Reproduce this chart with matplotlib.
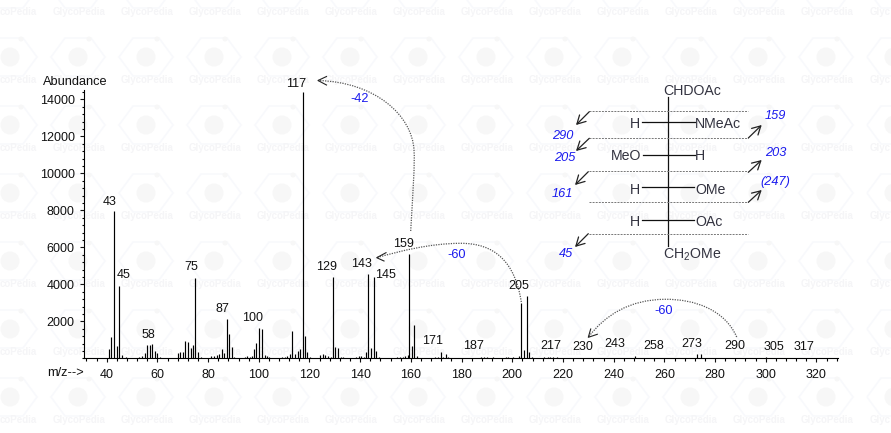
import numpy as np
import matplotlib
matplotlib.use('Agg')
import matplotlib.pyplot as plt
from matplotlib.patches import Polygon, Circle, PathPatch
from matplotlib.path import Path
from matplotlib.ticker import MultipleLocator

plt.rcParams['font.family'] = ['Liberation Sans', 'DejaVu Sans']
plt.rcParams['mathtext.default'] = 'regular'

# peaks
mz = [41.0, 41.8, 42.9, 44.2, 44.9, 46.2, 47.5, 52.9, 53.9, 55.0, 56.0, 57.0, 58.0, 59.0, 60.0, 61.1,
      68.2, 69.0, 70.2, 71.0, 72.2, 73.1, 74.2, 75.0, 76.2, 77.2,
      81.1, 82.3, 83.4, 84.2, 85.3, 86.2, 87.3, 88.4, 89.3, 90.4,
      94.5, 95.3, 96.5, 97.3, 98.2, 99.0, 100.2, 101.4, 102.3, 103.2, 104.1,
      109.3, 110.2, 111.3, 112.4, 113.2, 114.3, 115.3, 116.4, 117.3, 118.4, 119.1, 120.3,
      124.3, 125.3, 126.2, 127.3, 128.4, 129.4, 130.2, 131.4, 132.3, 133.2,
      138.3, 139.4, 140.5, 141.5, 142.3, 143.2, 144.4, 145.6, 146.4, 147.4,
      154.7, 155.8, 156.7, 157.6, 158.7, 159.4, 160.6, 161.4, 162.6, 163.6,
      169.6, 170.7, 171.7, 172.7, 173.7, 174.6, 175.8,
      184.4, 187.6, 188.9, 190.2, 192.3, 197.6, 198.4, 200.3, 202.8, 203.6, 204.8, 206.0, 206.7, 207.8,
      212.7, 213.9, 215.0, 216.1, 217.6, 248.3, 273.0, 274.5, 300.0]
abundance = [490, 1130, 7960, 670, 3910, 160, 50, 90, 120, 270, 700, 720, 770, 410, 270, 50,
             270, 320, 320, 920, 860, 540, 700, 4320, 320, 50,
             140, 120, 180, 230, 490, 270, 2100, 1310, 610, 50,
             90, 120, 70, 120, 490, 810, 1620, 1570, 200, 140, 50,
             50, 90, 120, 230, 1470, 220, 400, 500, 14400, 1190, 320, 50,
             160, 230, 180, 120, 90, 4380, 590, 540, 50, 50,
             70, 120, 120, 50, 360, 4540, 540, 4380, 380, 50,
             50, 90, 90, 140, 180, 5620, 670, 1780, 140, 30,
             50, 70, 360, 90, 220, 90, 30,
             40, 90, 50, 50, 50, 90, 50, 50, 120, 3000, 430, 3370, 320, 70,
             50, 70, 50, 50, 90, 130, 230, 230, 60]

peak_labels = ['43', '45', '58', '75', '87', '100', '117', '129', '143', '145', '159', '171',
               '187', '205', '217', '230', '243', '258', '273', '290', '305', '317']
label_x = [110, 124, 148, 191, 222, 253, 296, 327, 362, 386, 403, 433,
           474, 519, 551, 583, 615, 654, 692, 735, 774, 804]
label_y = [202, 275, 335, 267, 309, 318, 84, 267, 264, 275, 244, 341,
           346, 286, 346, 347, 344, 346, 344, 346, 347, 347]

W, H = 891, 433
fig = plt.figure(figsize=(W / 100, H / 100), dpi=100)

# pixel canvas under the spectrum, y runs downwards like in the picture
pa = fig.add_axes([0, 0, 1, 1], zorder=0)
pa.set_xlim(0, W)
pa.set_ylim(H, 0)
pa.axis('off')

# watermark tiles, the outer columns only show part of the word
for cx in range(10, 900, 68):
    for cy in range(-11, 440, 68):
        pa.add_patch(Polygon([(cx - 27, cy), (cx - 13, cy - 19), (cx + 13, cy - 19),
                              (cx + 27, cy), (cx + 13, cy + 19), (cx - 13, cy + 19)],
                             fill=False, ec='#f8f9fc', lw=1.2, zorder=0.1))
        pa.add_patch(Circle((cx, cy), 9.5, fc='#f7f7f7', ec='none', zorder=0.1))
        pa.add_patch(Circle((cx + 11, cy - 18), 2.5, fc='#f7f7f7', ec='none', zorder=0.1))
        if cy + 23 > H:
            continue
        if cx == 10:
            pa.text(0, cy + 23, 'coPedia', color='#f5f5f7', fontsize=7, fontweight='bold',
                    ha='left', va='center', zorder=0.2)
        elif cx > 850:
            pa.text(cx - 24, cy + 23, 'Glyc', color='#f5f5f7', fontsize=7, fontweight='bold',
                    ha='left', va='center', zorder=0.2)
        else:
            pa.text(cx + 1, cy + 23, 'GlycoPedia', color='#f5f5f7', fontsize=7, fontweight='bold',
                    ha='center', va='center', zorder=0.2)

# spectrum
ax = fig.add_axes([84 / W, 1 - 358.3 / H, (838 - 84) / W, (358.3 - 90) / H], zorder=1)
ax.patch.set_visible(False)
ax.vlines(mz, 0, abundance, color='black', lw=0.85)
ax.set_xlim(31.05, 328.5)
ax.set_ylim(0, 14503)
ax.spines['top'].set_visible(False)
ax.spines['right'].set_visible(False)
ax.spines['left'].set_linewidth(0.8)
ax.spines['bottom'].set_linewidth(0.8)
ax.set_xticks(np.arange(40, 321, 20))
ax.set_yticks(np.arange(2000, 14001, 2000))
ax.xaxis.set_minor_locator(MultipleLocator(4))
ax.yaxis.set_minor_locator(MultipleLocator(400))
ax.tick_params(axis='x', which='major', length=3.2, width=0.8, labelsize=9, pad=4.5, colors='#111111')
ax.tick_params(axis='x', which='minor', length=2.2, width=0.8)
ax.tick_params(axis='y', which='major', length=3.2, width=0.8, labelsize=9, pad=3.5, colors='#111111')
ax.tick_params(axis='y', which='minor', length=1.8, width=0.8)

pa.text(43, 82, 'Abundance', fontsize=9.2, color='#111111', ha='left', va='center')
pa.text(47, 373.5, 'm/z-->', fontsize=9.2, color='#111111', ha='left', va='center')
for s, x, y in zip(peak_labels, label_x, label_y):
    pa.text(x, y, s, fontsize=9, color='#111111', ha='center', va='center')


def curve(points, tip, barb1, barb2):
    codes = [Path.MOVETO] + [Path.CURVE4] * (len(points) - 1)
    pa.add_patch(PathPatch(Path(points, codes), fill=False, ec='#555555', lw=0.9, ls=(0, (1, 1))))
    pa.plot([barb1[0], tip[0], barb2[0]], [barb1[1], tip[1], barb2[1]], color='#222222', lw=0.8)


# neutral loss arcs
curve([(410.7, 231), (413, 190), (415, 165), (414, 150), (412, 115), (375, 82), (318, 80.5)],
      (318, 80.5), (326.5, 76.5), (326.5, 85))
curve([(521.3, 302), (515, 262), (495, 243), (460, 243.3), (430, 243.5), (400, 251), (376.7, 257.7)],
      (376.7, 257.7), (386, 252.7), (384, 261))
curve([(736.7, 337), (725, 310), (695, 299), (665, 299.3), (630, 299.5), (605, 315), (588.3, 337.3)],
      (588.3, 337.3), (590.7, 329), (597.3, 334.3))
for s, x, y in [('-42', 360, 99.5), ('-60', 456.7, 255.5), ('-60', 664, 310.5)]:
    pa.text(x, y, s, color='#1a1aee', fontsize=9.2, ha='center', va='center')

# structure
pa.plot([668.3, 668.3], [96.7, 245.7], color='#111111', lw=0.9)
for y, x0, x1 in [(122.3, 641.7, 695), (155, 643, 695), (187.3, 641.7, 694), (220.3, 641.7, 694)]:
    pa.plot([x0, x1], [y, y], color='#111111', lw=0.9)
for y in [111, 138, 171.3, 202.3, 233.7]:
    pa.plot([589, 748], [y, y], color='#777777', lw=0.7, ls=(0, (2, 1.2)))

chem = '#333340'
for s, x, y, ha in [('CHDOAc', 663, 91, 'left'), ('H', 634.5, 124.5, 'center'), ('NMeAc', 695, 124, 'left'),
                    ('MeO', 641, 156, 'right'), ('H', 695, 156, 'left'), ('H', 634.5, 189.5, 'center'),
                    ('OMe', 695, 189.5, 'left'), ('H', 634.5, 222.5, 'center'), ('OAc', 695, 222.5, 'left'),
                    ('CH$_2$OMe', 663, 255, 'left')]:
    pa.text(x, y, s, color=chem, fontsize=10.2, ha=ha, va='center')

for s, x, y in [('159', 775.7, 116.3), ('290', 562.7, 135.7), ('205', 564.3, 158.3), ('203', 775.3, 152.7),
                ('(247)', 775.7, 182.3), ('161', 562.7, 194.3), ('45', 566, 254.3)]:
    pa.text(x, y, s, color='#1a1aee', fontsize=9.2, style='italic', ha='center', va='center')

for start, end in [((589.3, 111.7), (576, 125)), ((589.3, 138.3), (576, 151)), ((588.3, 171.7), (575, 185)),
                   ((588.3, 233.7), (575, 247)), ((748.3, 138), (761.7, 125)), ((748.3, 172.3), (761.7, 160)),
                   ((748.3, 202.3), (761.7, 190))]:
    pa.annotate('', xy=end, xytext=start,
                arrowprops=dict(arrowstyle='->,head_length=0.6,head_width=0.33', color='#222222', lw=0.9,
                                shrinkA=0, shrinkB=0))

fig.savefig('out.png', dpi=100)
